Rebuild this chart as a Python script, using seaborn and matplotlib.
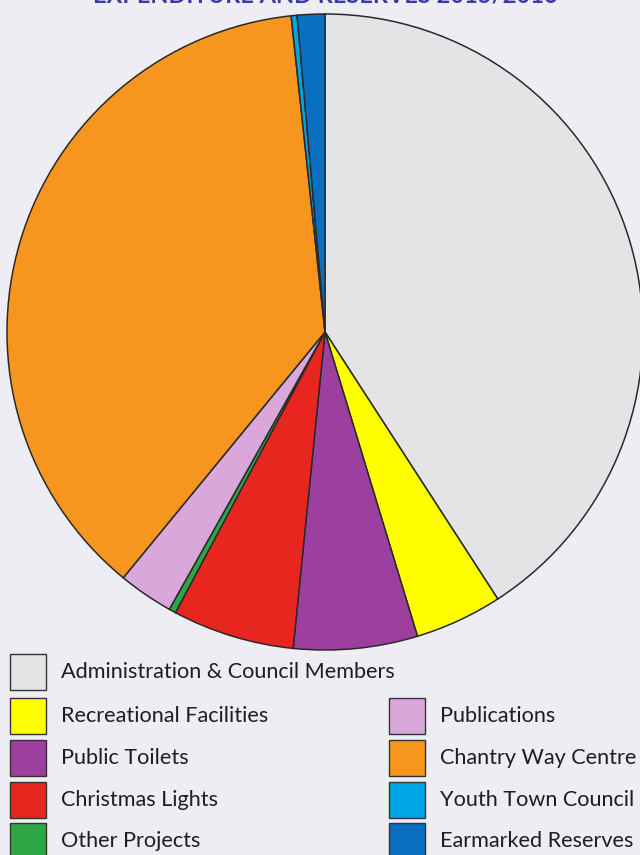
import matplotlib
matplotlib.use("Agg")
import matplotlib.pyplot as plt
import matplotlib.patches as mpatches
import seaborn as sns

# Slice shares (%), clockwise from 12 o'clock
labels = ["Administration & Council Members", "Recreational Facilities", "Public Toilets",
          "Christmas Lights", "Other Projects", "Publications", "Chantry Way Centre",
          "Youth Town Council", "Earmarked Reserves"]
shares = [40.9, 4.45, 6.3, 6.2, 0.35, 2.8, 37.4, 0.3, 1.4]
colours = ["#e4e4e6", "#ffff00", "#9c3f9f", "#e8261f", "#2ea644", "#d9a7da",
           "#f7961f", "#00a5e6", "#0b6fc1"]

title = "EXPENDITURE AND RESERVES 2015/2016"

bg = "#ededf3"
sns.set_theme(style="white")
plt.rcParams["font.family"] = ["Lato", "DejaVu Sans"]

fig = plt.figure(figsize=(6.4, 8.55), dpi=100)
fig.patch.set_facecolor(bg)

W, H = 640, 855
cx, cy, r = 325, 332, 318
ax = fig.add_axes([(cx - r) / W, (H - cy - r) / H, 2 * r / W, 2 * r / H])
ax.set_facecolor(bg)
ax.pie(shares, colors=sns.color_palette(colours), startangle=90, counterclock=False,
       radius=1, wedgeprops=dict(edgecolor="#2a2a2a", linewidth=1.1))
ax.set_xlim(-1, 1)
ax.set_ylim(-1, 1)
ax.axis("off")

# title, cut off by the top of the scan
fig.text(325 / W, 1 + 5 / H, title, ha="center", va="center", fontsize=17,
         fontweight="bold", color="#3a3aa8")

# legend: left column five items, right column four items aligned to the bottom
rows_y = [672, 716, 758, 800, 841]
left_items = [0, 1, 2, 3, 4]
right_items = [5, 6, 7, 8]
box = 36


def legend_entry(i, x_box, y_c):
    fig.patches.append(mpatches.Rectangle((x_box / W, (H - y_c - box / 2) / H), box / W, box / H,
                                          transform=fig.transFigure, facecolor=colours[i],
                                          edgecolor="#333333", linewidth=1.0))
    fig.text((x_box + box + 15) / W, (H - y_c) / H, labels[i], ha="left", va="center",
             fontsize=15.6, color="#1e1e1e")


for k, i in enumerate(left_items):
    legend_entry(i, 10, rows_y[k])
for k, i in enumerate(right_items):
    legend_entry(i, 389, rows_y[k + 1])

fig.savefig("out.png", dpi=100, facecolor=bg)
